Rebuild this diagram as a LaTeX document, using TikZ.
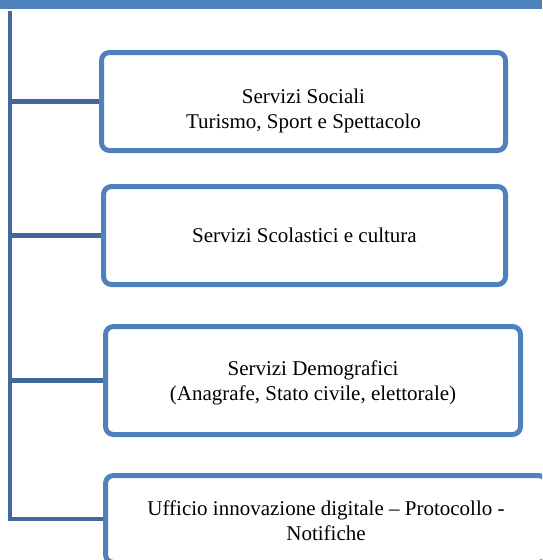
\documentclass[tikz,border=0pt]{standalone}
\usepackage{fontspec}
\setmainfont{Liberation Serif}
\definecolor{accent}{HTML}{4F81BD}
\definecolor{spinec}{HTML}{41699B}
\begin{document}
\begin{tikzpicture}[x=1pt,y=-1pt,
  box/.style={draw=accent,line width=5pt,rounded corners=8pt,fill=white,inner sep=0pt},
  spine/.style={draw=spinec,line width=4.8pt},
  lbl/.style={font=\fontsize{21}{25}\selectfont,align=center,inner sep=0pt}]
\clip (0,0) rectangle (542,560);
\fill[accent] (0,0) rectangle (542,8.7);
\coordinate (top) at (10,11);
% boxes: center, size = outer extent - line width
\node[box,minimum width=404pt,minimum height=98pt] (b1) at (303.5,101.5) {};
\node[box,minimum width=402pt,minimum height=98pt] (b2) at (304.5,235.5) {};
\node[box,minimum width=415pt,minimum height=108pt] (b3) at (313,380.5) {};
\node[box,minimum width=441pt,minimum height=87pt] (b4) at (326,519) {};
\node[lbl] (t1) at (303.5,110.6) {Servizi Sociali\\Turismo, Sport e Spettacolo};
\node[lbl] (t2) at (304.5,235) {Servizi Scolastici e cultura};
\node[lbl] (t3) at (313,382.6) {Servizi Demografici\\(Anagrafe, Stato civile, elettorale)};
\node[lbl] (t4) at (326,520.3) {Ufficio innovazione digitale – Protocollo -\\Notifiche};
\draw[spine] (top) |- (b4.west);
\draw[spine] (top |- b1.west) -- (b1.west);
\draw[spine] (top |- b2.west) -- (b2.west);
\draw[spine] (top |- b3.west) -- (b3.west);
\end{tikzpicture}
\end{document}
